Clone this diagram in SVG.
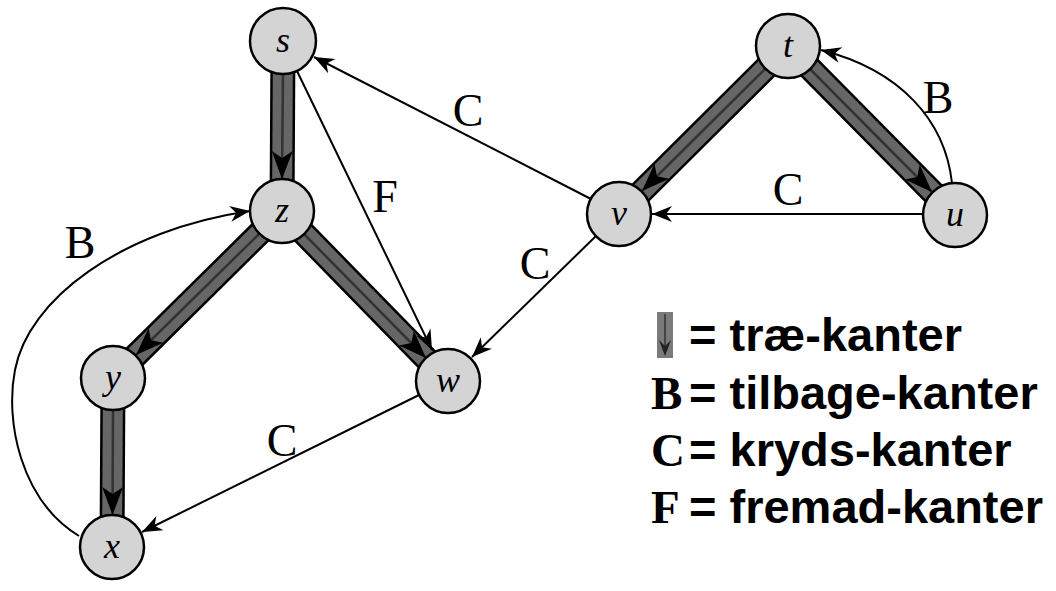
<svg xmlns="http://www.w3.org/2000/svg" width="1056" height="591" viewBox="0 0 1056 591">
<style>
.band-out{stroke:#000;stroke-width:25;fill:none}
.band-in{stroke:#666;stroke-width:20;fill:none}
.band-core{stroke:#333;stroke-width:2.5;fill:none}
.thin{stroke:#000;stroke-width:2;fill:none}
.node circle{fill:#d4d4d4;stroke:#000;stroke-width:2.5}
.node text{font-family:"Liberation Serif",serif;font-style:italic;font-size:36px;text-anchor:middle;fill:#000}
.elabel{font-family:"Liberation Serif",serif;font-size:46px;text-anchor:middle;fill:#000}
.leg{font-family:"Liberation Sans",Arial,sans-serif;font-weight:bold;font-size:47px;fill:#000}
.legs{font-family:"Liberation Serif",serif;font-weight:bold;font-size:47px;fill:#000}
</style>
<defs>
<marker id="treeHead" markerUnits="userSpaceOnUse" markerWidth="34" markerHeight="26" viewBox="-30 -13 34 26" refX="0" refY="0" orient="auto" overflow="visible">
<path d="M0,0 L-28,-10.5 L-21,0 L-28,10.5 Z" fill="#000"/>
</marker>
<marker id="thinHead" markerUnits="userSpaceOnUse" markerWidth="24" markerHeight="18" viewBox="-22 -9 24 18" refX="0" refY="0" orient="auto" overflow="visible">
<path d="M0,0 L-20,-8 L-14,0 L-20,8 Z" fill="#000"/>
</marker>
</defs>
<rect width="1056" height="591" fill="#fff"/>
<g id="connectors">
<g id="tree-edges">
<path class="band-out" d="M283,41 L282,211"/>
<path class="band-in" d="M283,41 L282,211"/>
<path class="band-core" d="M283,73 L282,179" marker-end="url(#treeHead)"/>
<path class="band-out" d="M282,211 L113,378"/>
<path class="band-in" d="M282,211 L113,378"/>
<path class="band-core" d="M259,234 L136,355" marker-end="url(#treeHead)"/>
<path class="band-out" d="M282,211 L448,381"/>
<path class="band-in" d="M282,211 L448,381"/>
<path class="band-core" d="M304,234 L426,358" marker-end="url(#treeHead)"/>
<path class="band-out" d="M113,378 L112,547"/>
<path class="band-in" d="M113,378 L112,547"/>
<path class="band-core" d="M113,410 L112.5,515" marker-end="url(#treeHead)"/>
<path class="band-out" d="M788,46 L619,214"/>
<path class="band-in" d="M788,46 L619,214"/>
<path class="band-core" d="M765,69 L642,191" marker-end="url(#treeHead)"/>
<path class="band-out" d="M788,46 L955,215"/>
<path class="band-in" d="M788,46 L955,215"/>
<path class="band-core" d="M810,69 L932,192" marker-end="url(#treeHead)"/>
</g>
<g id="other-edges">
<path class="thin" d="M591,199 L314,57" marker-end="url(#thinHead)"/>
<path class="thin" d="M297,71 L432,350" marker-end="url(#thinHead)"/>
<path class="thin" d="M596,236 L472,357" marker-end="url(#thinHead)"/>
<path class="thin" d="M923,214 L652,214" marker-end="url(#thinHead)"/>
<path class="thin" d="M419,395 L142,532" marker-end="url(#thinHead)"/>
<path class="thin" d="M79,536 C20,500 5,420 15,370 C28,300 120,230 250,211" marker-end="url(#thinHead)"/>
<path class="thin" d="M952,183 C945,120 900,70 821,50" marker-end="url(#thinHead)"/>
</g>
<g id="edge-labels">
<text class="elabel" x="468" y="126">C</text>
<text class="elabel" x="385" y="212">F</text>
<text class="elabel" x="788" y="205">C</text>
<text class="elabel" x="938" y="113">B</text>
<text class="elabel" x="535" y="279">C</text>
<text class="elabel" x="80" y="258">B</text>
<text class="elabel" x="282" y="456">C</text>
</g>
</g>
<g id="node-s" class="node"><circle cx="283" cy="41" r="33"/><text x="283" y="52">s</text></g>
<g id="node-z" class="node"><circle cx="282" cy="211" r="32"/><text x="282" y="222">z</text></g>
<g id="node-y" class="node"><circle cx="113" cy="378" r="32"/><text x="113" y="389">y</text></g>
<g id="node-x" class="node"><circle cx="112" cy="547" r="32"/><text x="112" y="558">x</text></g>
<g id="node-w" class="node"><circle cx="448" cy="381" r="32"/><text x="448" y="392">w</text></g>
<g id="node-v" class="node"><circle cx="619" cy="214" r="32"/><text x="619" y="225">v</text></g>
<g id="node-t" class="node"><circle cx="788" cy="46" r="32"/><text x="788" y="57">t</text></g>
<g id="node-u" class="node"><circle cx="955" cy="215" r="32"/><text x="955" y="226">u</text></g>
<g id="legend">
<rect x="657" y="312" width="16" height="46" fill="#7a7a7a"/>
<line x1="665" y1="314" x2="665" y2="346" stroke="#444" stroke-width="2"/>
<path d="M659,340 L665,356 L671,340 L665,346 Z" fill="#222"/>
<text class="leg" x="689" y="351">= træ-kanter</text>
<text class="legs" x="651" y="409">B</text>
<text class="leg" x="689" y="409">= tilbage-kanter</text>
<text class="legs" x="651" y="466">C</text>
<text class="leg" x="689" y="466">= kryds-kanter</text>
<text class="legs" x="651" y="523">F</text>
<text class="leg" x="689" y="523">= fremad-kanter</text>
</g>
</svg>
